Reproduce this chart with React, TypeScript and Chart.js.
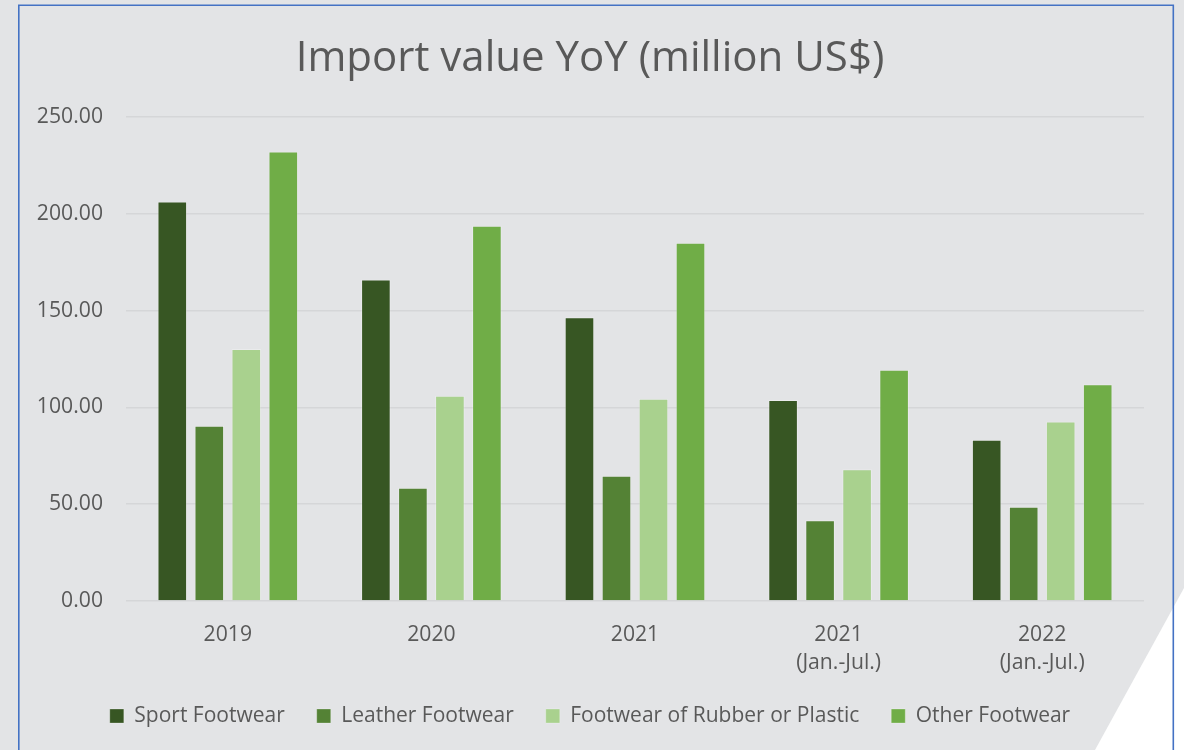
import React, { useEffect, useRef } from "react";
import { Chart, registerables } from "chart.js";

Chart.register(...registerables);

const categories: (string | string[])[] = [
  "2019",
  "2020",
  "2021",
  ["2021", "(Jan.-Jul.)"],
  ["2022", "(Jan.-Jul.)"],
];
const seriesNames = [
  "Sport Footwear",
  "Leather Footwear",
  "Footwear of Rubber or Plastic",
  "Other Footwear",
];
const sportFootwear = [206.3, 166.0, 146.6, 103.8, 83.3];
const leatherFootwear = [90.5, 58.5, 64.7, 41.7, 48.7];
const rubberPlasticFootwear = [130.2, 106.0, 104.5, 68.0, 92.7];
const otherFootwear = [232.2, 193.8, 185.0, 119.5, 111.9];
const yTicks = [0, 50, 100, 150, 200, 250];
const titleText = "Import value YoY (million US$)";

const colors = ["#375623", "#548235", "#A9D18E", "#70AD47"];
const FONT = "'Open Sans', 'DejaVu Sans', sans-serif";
const TEXT = "#595959";
const BG = "#e3e4e6";

const framePlugin = {
  id: "frame",
  afterLayout(chart: any) {
    if (chart.scales.x) chart.scales.x.bottom = chart.scales.x.top + 90;
    if (chart.scales.y) chart.scales.y.left = 0;
  },
  beforeDraw(chart: any) {
    const ctx = chart.ctx;
    const w = chart.width;
    const h = chart.height;
    ctx.save();
    ctx.fillStyle = BG;
    ctx.fillRect(0, 0, w, h);
    ctx.fillStyle = "#ffffff";
    ctx.beginPath();
    ctx.moveTo(1095, h);
    ctx.lineTo(w, 588);
    ctx.lineTo(w, h);
    ctx.closePath();
    ctx.fill();
    ctx.strokeStyle = "#4472c4";
    ctx.lineWidth = 1.6;
    ctx.beginPath();
    ctx.moveTo(18.8, h + 5);
    ctx.lineTo(18.8, 5.2);
    ctx.lineTo(1173.3, 5.2);
    ctx.lineTo(1173.3, h + 5);
    ctx.stroke();
    ctx.restore();
  },
};

export default function App() {
  const ref = useRef<HTMLCanvasElement>(null);

  useEffect(() => {
    if (!ref.current) return;
    const series = [sportFootwear, leatherFootwear, rubberPlasticFootwear, otherFootwear];
    const chart = new Chart(ref.current, {
      type: "bar",
      data: {
        labels: categories as any,
        datasets: series.map((d, i) => ({
          label: seriesNames[i],
          data: d,
          backgroundColor: colors[i],
          borderColor: "rgba(255,255,255,0.25)",
          borderWidth: 1,
          categoryPercentage: 0.727,
          barPercentage: 0.8,
        })),
      },
      options: {
        responsive: false,
        animation: false,
        devicePixelRatio: 1,
        layout: { padding: { top: 0, left: 36, right: 40, bottom: 13.5 } },
        plugins: {
          tooltip: { enabled: false },
          title: {
            display: true,
            text: titleText,
            color: TEXT,
            font: { family: FONT, size: 42, weight: "normal", lineHeight: 1.2 },
            padding: { top: 34.1, bottom: 32.5 },
          },
          legend: {
            position: "bottom",
            labels: {
              color: TEXT,
              font: { family: FONT, size: 21 },
              boxWidth: 14,
              boxHeight: 14,
              padding: 32,
            },
          },
        },
        scales: {
          x: {
            grid: { display: false, drawTicks: false },
            border: { display: false },
            ticks: {
              color: TEXT,
              font: { family: FONT, size: 21.2, lineHeight: 28 / 21.2 },
              padding: 20,
              maxRotation: 0,
              autoSkip: false,
            },
            afterFit: (scale: any) => {
              scale.height = 72.5;
            },
          },
          y: {
            min: yTicks[0],
            max: yTicks[yTicks.length - 1],
            afterBuildTicks: (scale: any) => {
              scale.ticks = yTicks.map((v) => ({ value: v }));
            },
            grid: { color: "#d5d6d8", lineWidth: 1.5, drawTicks: false },
            border: { display: false },
            ticks: {
              color: TEXT,
              font: { family: FONT, size: 21.2 },
              padding: 23,
              callback: (v: any) => Number(v).toFixed(2),
            },
            afterFit: (scale: any) => {
              scale.width = 90;
            },
          },
        },
      },
      plugins: [framePlugin],
    });
    return () => chart.destroy();
  }, []);

  return (
    <div style={{ position: "fixed", left: 0, top: 0, width: 1184, height: 750, background: BG }}>
      <canvas ref={ref} width={1184} height={750} style={{ width: 1184, height: 750, display: "block" }} />
    </div>
  );
}
